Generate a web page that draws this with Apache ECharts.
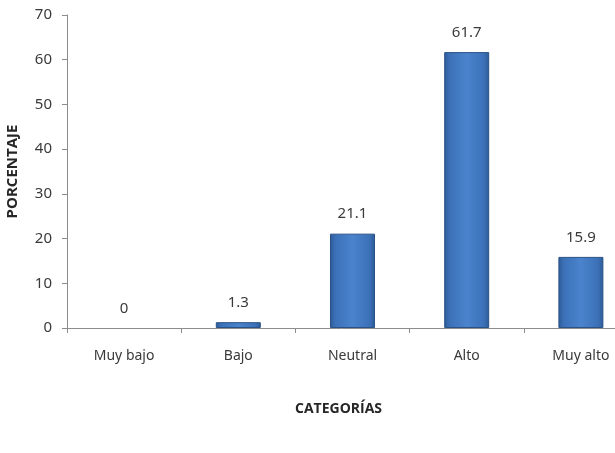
<!DOCTYPE html>
<html>
<head>
<meta charset="utf-8">
<script src="https://cdn.jsdelivr.net/npm/echarts@6/dist/echarts.min.js"></script>
<style>
  html, body { margin: 0; padding: 0; background: #fff; }
  #main { width: 615px; height: 453px; }
</style>
</head>
<body>
<div id="main"></div>
<script>
var categories = ['Muy bajo', 'Bajo', 'Neutral', 'Alto', 'Muy alto'];
var porcentaje = [0, 1.3, 21.1, 61.7, 15.9];
var yTicks = [0, 10, 20, 30, 40, 50, 60, 70];

var chartDom = document.getElementById('main');
var myChart = echarts.init(chartDom);

var barColor = new echarts.graphic.LinearGradient(0, 0, 1, 0, [
  { offset: 0, color: '#2c5a96' },
  { offset: 0.12, color: '#3c71b8' },
  { offset: 0.5, color: '#4a84cc' },
  { offset: 0.88, color: '#3c71b8' },
  { offset: 1, color: '#2c5a96' }
]);

// zero-height bars get no outline, only the value label
var barData = porcentaje.map(function (v) {
  return v === 0 ? { value: v, itemStyle: { borderWidth: 0 } } : v;
});

var option = {
  animation: false,
  textStyle: { fontFamily: 'Noto Sans' },
  grid: {
    left: 67,
    right: -23,
    top: 15,
    bottom: 125,
    outerBoundsMode: 'none',
    containLabel: false
  },
  xAxis: {
    type: 'category',
    data: categories,
    name: 'CATEGORÍAS',
    nameLocation: 'middle',
    nameGap: 74,
    nameTextStyle: {
      fontFamily: 'Open Sans',
      fontWeight: 'bold',
      fontSize: 14,
      color: '#262626',
      padding: [0, 28, 0, 0]
    },
    axisLine: { lineStyle: { color: '#8c8c8c' } },
    axisTick: { show: true, length: 5, lineStyle: { color: '#8c8c8c' } },
    axisLabel: { fontSize: 14, color: '#3a3a3a', margin: 21 }
  },
  yAxis: {
    type: 'value',
    min: yTicks[0],
    max: yTicks[yTicks.length - 1],
    interval: 10,
    name: 'PORCENTAJE',
    nameLocation: 'middle',
    nameGap: 47,
    nameTextStyle: {
      fontFamily: 'Open Sans',
      fontWeight: 'bold',
      fontSize: 15,
      color: '#262626'
    },
    axisLine: { show: true, lineStyle: { color: '#8c8c8c' } },
    axisTick: { show: true, length: 5, lineStyle: { color: '#8c8c8c' } },
    axisLabel: { fontSize: 15, color: '#3a3a3a', margin: 15 },
    splitLine: { show: false }
  },
  series: [
    {
      type: 'bar',
      data: barData,
      barWidth: 45,
      itemStyle: {
        color: barColor,
        borderColor: '#2a5287',
        borderWidth: 1
      },
      label: {
        show: true,
        position: 'top',
        distance: 12,
        fontSize: 15,
        color: '#3a3a3a'
      }
    }
  ]
};

myChart.setOption(option);
</script>
</body>
</html>
